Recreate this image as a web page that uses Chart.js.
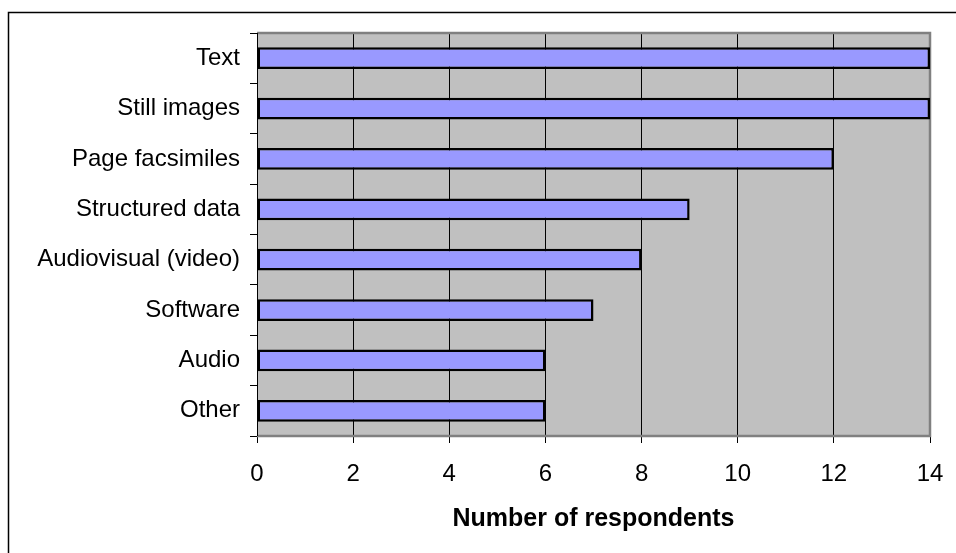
<!DOCTYPE html>
<html>
<head>
<meta charset="utf-8">
<script src="https://cdn.jsdelivr.net/npm/chart.js@4/dist/chart.umd.min.js"></script>
<style>
html,body{margin:0;padding:0;background:#fff;}
#wrap{width:956px;height:553px;position:relative;}
</style>
</head>
<body>
<div id="wrap"><canvas id="c" width="956" height="553"></canvas></div>
<script>
const categories = ["Text","Still images","Page facsimiles","Structured data","Audiovisual (video)","Software","Audio","Other"];
const respondents = [14,14,12,9,8,7,6,6];
const xTicks = [0,2,4,6,8,10,12,14];
const xTitle = "Number of respondents";

const FONT = "'Liberation Sans', Arial, sans-serif";

const framePlugin = {
  id: 'frame',
  beforeDraw(chart) {
    const ctx = chart.ctx, a = chart.chartArea;
    ctx.save();
    ctx.fillStyle = '#fff';
    ctx.fillRect(0,0,chart.width,chart.height);
    ctx.fillStyle = '#C0C0C0';
    ctx.fillRect(a.left, a.top, a.right - a.left, a.bottom - a.top);
    // outer border
    ctx.strokeStyle = '#000';
    ctx.lineWidth = 1.5;
    ctx.beginPath();
    ctx.moveTo(8.5, chart.height + 2);
    ctx.lineTo(8.5, 12.5);
    ctx.lineTo(chart.width + 2, 12.5);
    ctx.stroke();
    ctx.restore();
  },
  beforeDatasetsDraw(chart) {
    const ctx = chart.ctx, a = chart.chartArea;
    ctx.save();
    ctx.strokeStyle = '#808080';
    ctx.lineWidth = 2.5;
    ctx.beginPath();
    ctx.moveTo(a.left, a.top);
    ctx.lineTo(a.right, a.top);
    ctx.lineTo(a.right, a.bottom);
    ctx.lineTo(a.left, a.bottom);
    ctx.stroke();
    ctx.strokeStyle = '#000';
    ctx.lineWidth = 1;
    ctx.beginPath();
    ctx.moveTo(a.left + 0.5, a.top);
    ctx.lineTo(a.left + 0.5, a.bottom);
    ctx.stroke();
    ctx.restore();
  }
};

new Chart(document.getElementById('c'), {
  type: 'bar',
  data: {
    labels: categories,
    datasets: [{
      data: respondents,
      backgroundColor: '#9999FF',
      borderColor: '#000',
      borderWidth: 2.5,
      borderSkipped: false,
      barPercentage: 0.43,
      categoryPercentage: 1
    }]
  },
  options: {
    indexAxis: 'y',
    responsive: false,
    animation: false,
    devicePixelRatio: 1,
    layout: { padding: { left: 0, top: 33, right: 26, bottom: 0 } },
    plugins: { legend: { display: false }, tooltip: { enabled: false } },
    scales: {
      x: {
        min: 0, max: 14,
        afterBuildTicks(scale) { scale.ticks = xTicks.map(v => ({ value: v })); },
        afterFit(scale) { scale.height = 117; scale.paddingLeft = 0; scale.paddingRight = 0; },
        grid: {
          color: '#000',
          lineWidth: 1,
          drawTicks: true,
          tickLength: 7,
          tickColor: '#000'
        },
        border: { display: false },
        ticks: {
          color: '#000',
          font: { family: FONT, size: 24 },
          padding: 17,
          maxRotation: 0
        },
        title: {
          display: true,
          text: xTitle,
          color: '#000',
          font: { family: FONT, size: 25, weight: 'bold' },
          padding: { top: 0, bottom: 19 }
        }
      },
      y: {
        offset: true,
        afterFit(scale) { scale.width = 257; scale.paddingTop = 0; scale.paddingBottom = 0; },
        grid: {
          offset: true,
          drawOnChartArea: false,
          drawTicks: true,
          tickLength: 7,
          tickColor: '#000'
        },
        border: { display: false },
        ticks: {
          color: '#000',
          font: { family: FONT, size: 24 },
          padding: 10,
          autoSkip: false
        }
      }
    }
  },
  plugins: [framePlugin]
});
</script>
</body>
</html>
